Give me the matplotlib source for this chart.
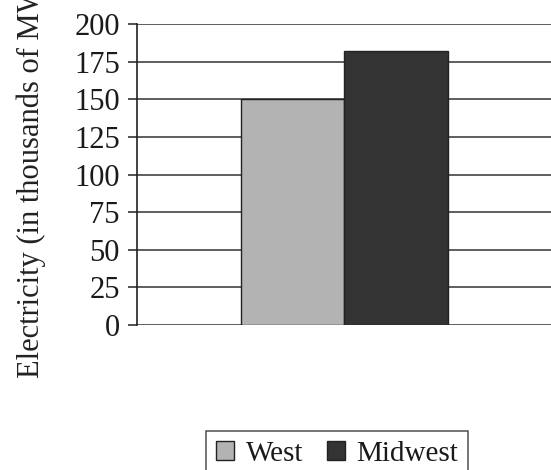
import matplotlib
matplotlib.use("Agg")
import matplotlib.pyplot as plt
from matplotlib.patches import Patch

# electricity by region, thousands of MW
regions = ["West", "Midwest"]
values = [150, 182]
colors = ["#b3b3b3", "#333333"]
yticks = [0, 25, 50, 75, 100, 125, 150, 175, 200]

plt.rcParams["font.family"] = ["Liberation Serif", "DejaVu Serif"]
plt.rcParams["font.size"] = 22

W, H = 551, 470
fig = plt.figure(figsize=(W / 100, H / 100), dpi=100)
ax = fig.add_axes([137 / W, 1 - 325 / H, 1 - 137 / W, (325 - 24) / H])

ax.bar([0, 1], values, width=1.0, color=colors, edgecolor="#222222",
       linewidth=1.0, zorder=3)

ax.set_xlim(-1.5, 2.5)
ax.set_ylim(0, 200)
ax.set_yticks(yticks)
ax.set_xticks([])
ax.yaxis.grid(True, color="#333333", linewidth=1.1, zorder=0)
ax.set_axisbelow(True)
ax.tick_params(axis="y", direction="out", length=6.5, width=1.1, color="#222222",
               pad=6, labelcolor="#1a1a1a")

for side in ("top", "right", "bottom"):
    ax.spines[side].set_visible(False)
ax.spines["left"].set_color("#222222")
ax.spines["left"].set_linewidth(1.2)

# long label runs past the top edge of the figure
fig.text(31 / W, 1 - 378 / H, "Electricity (in thousands of MW)", rotation=90,
         ha="center", va="bottom", color="#222222")

handles = [Patch(facecolor=c, edgecolor="#222222", linewidth=1.0) for c in colors]
leg = fig.legend(handles, regions, loc="upper left",
                 bbox_to_anchor=(206 / W, 1 - 431 / H), ncol=2,
                 frameon=True, fancybox=False, edgecolor="#222222",
                 fontsize=21, handlelength=0.62, handleheight=0.62,
                 handletextpad=0.4, columnspacing=0.8, borderpad=0.35,
                 borderaxespad=0)
leg.get_frame().set_linewidth(1.1)
for t in leg.get_texts():
    t.set_color("#1a1a1a")

fig.savefig("out.png", dpi=100)
